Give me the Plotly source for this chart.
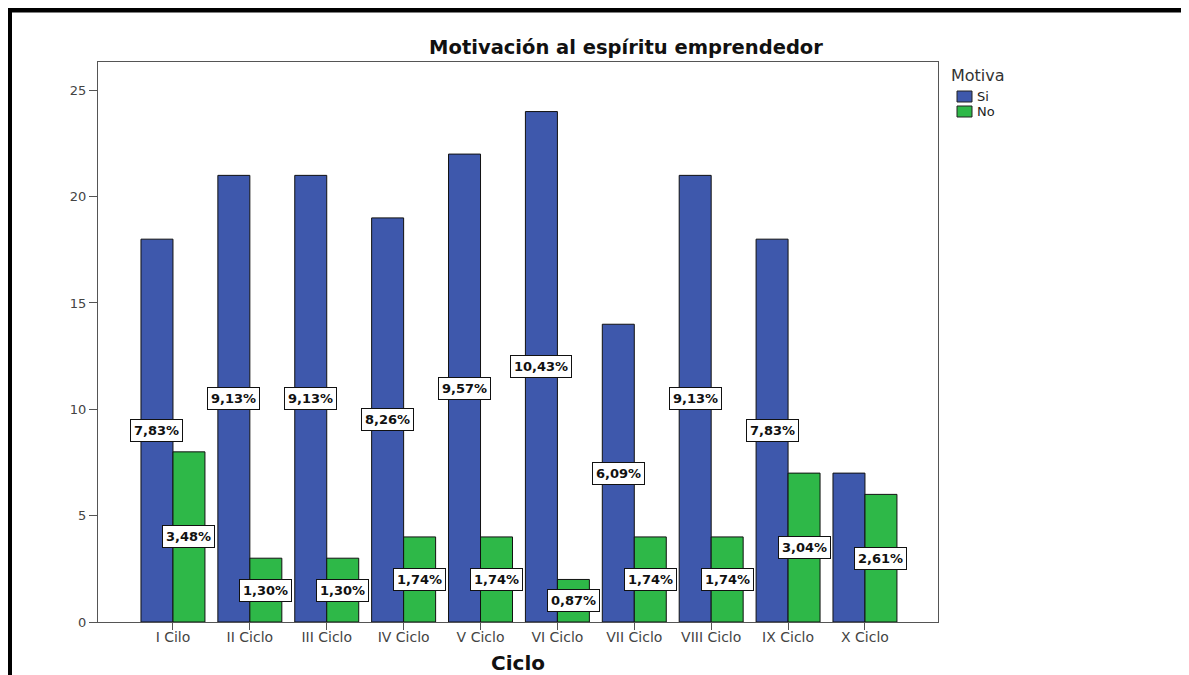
import plotly.graph_objects as go

categories = ["I Cilo", "II Ciclo", "III Ciclo", "IV Ciclo", "V Ciclo",
              "VI Ciclo", "VII Ciclo", "VIII Ciclo", "IX Ciclo", "X Ciclo"]
si_values = [18, 21, 21, 19, 22, 24, 14, 21, 18, 7]
no_values = [8, 3, 3, 4, 4, 2, 4, 4, 7, 6]
si_labels = ["7,83%", "9,13%", "9,13%", "8,26%", "9,57%", "10,43%", "6,09%", "9,13%", "7,83%", None]
no_labels = ["3,48%", "1,30%", "1,30%", "1,74%", "1,74%", "0,87%", "1,74%", "1,74%", "3,04%", "2,61%"]
series_names = ["Si", "No"]
legend_title = "Motiva"

BLUE = "#3e58ac"
GREEN = "#2eb848"
FONT = "DejaVu Sans, Verdana, sans-serif"

# page has an 8px body margin; figure is sized to fill the rest of the window
W, H = 1181, 667
ML, MR, MT, MB = 90, 251, 54, 53
PW, PH = W - ML - MR, H - MT - MB  # 840 x 560


def px(page_x):
    return (page_x - 8 - ML) / PW


def py(page_y):
    return 1 - (page_y - 8 - MT) / PH


fig = go.Figure()
fig.add_trace(go.Bar(name=series_names[0], x=categories, y=si_values,
                     marker=dict(color=BLUE, line=dict(color="#111", width=1))))
fig.add_trace(go.Bar(name=series_names[1], x=categories, y=no_values,
                     marker=dict(color=GREEN, line=dict(color="#111", width=1))))

BAR_GAP = 0.168
half = (1 - BAR_GAP) / 4.0

for i, cat in enumerate(categories):
    for val, lab, off in ((si_values[i], si_labels[i], -half), (no_values[i], no_labels[i], half)):
        if lab is None:
            continue
        fig.add_annotation(x=i + off, y=val / 2.0, xref="x", yref="y", text="<b>%s</b>" % lab,
                           showarrow=False, bgcolor="white", bordercolor="#111", borderwidth=1,
                           borderpad=3, font=dict(family=FONT, size=13, color="#111"))

fig.update_layout(
    width=W, height=H,
    paper_bgcolor="white", plot_bgcolor="white",
    margin=dict(l=ML, r=MR, t=MT, b=MB, autoexpand=False),
    barmode="group", bargap=BAR_GAP, bargroupgap=0,
    font=dict(family=FONT, color="#333"),
    title=dict(text="<b>Motivación al espíritu emprendedor</b>", x=(626 - 8) / W, xanchor="center",
               y=1 - (47 - 8) / H, yanchor="middle", font=dict(family=FONT, size=19.5, color="#111")),
    showlegend=False,
)

fig.update_xaxes(type="category", range=[-0.975, 9.95], showline=True, linecolor="#555", linewidth=1,
                 mirror=True, ticks="outside", ticklen=7, tickcolor="#555", automargin=False,
                 ticklabelstandoff=-5,
                 tickfont=dict(family=FONT, size=14, color="#444"),
                 title=dict(text="<b>Ciclo</b>", font=dict(family=FONT, size=20, color="#111"), standoff=12),
                 showgrid=False, zeroline=False)
fig.update_yaxes(range=[0, 26.33], showline=True, linecolor="#555", linewidth=1, mirror=True,
                 ticks="outside", ticklen=8, tickcolor="#555", tickvals=[0, 5, 10, 15, 20, 25],
                 automargin=False,
                 tickfont=dict(family=FONT, size=13, color="#444"), showgrid=False, zeroline=False)

# manual legend
fig.add_annotation(xref="paper", yref="paper", x=px(949), y=py(75), xanchor="left", yanchor="middle",
                   text=legend_title, showarrow=False, font=dict(family=FONT, size=16, color="#333"))
for k, (name, col) in enumerate(zip(series_names, [BLUE, GREEN])):
    y0 = 91 + 15 * k
    fig.add_shape(type="rect", xref="paper", yref="paper", x0=px(957), x1=px(972),
                  y0=py(y0 + 11), y1=py(y0), fillcolor=col, line=dict(color="#222", width=1))
    fig.add_annotation(xref="paper", yref="paper", x=px(975), y=py(y0 + 5.5), xanchor="left",
                       yanchor="middle", text=name, showarrow=False,
                       font=dict(family=FONT, size=13, color="#222"))

# outer black frame (top and left edges visible in the reference)
fig.add_shape(type="line", xref="paper", yref="paper", x0=px(7), x1=px(1195),
              y0=py(10), y1=py(10), line=dict(color="black", width=5))
fig.add_shape(type="line", xref="paper", yref="paper", x0=px(9.5), x1=px(9.5),
              y0=py(690), y1=py(8), line=dict(color="black", width=5))

fig.write_html("out.html")
